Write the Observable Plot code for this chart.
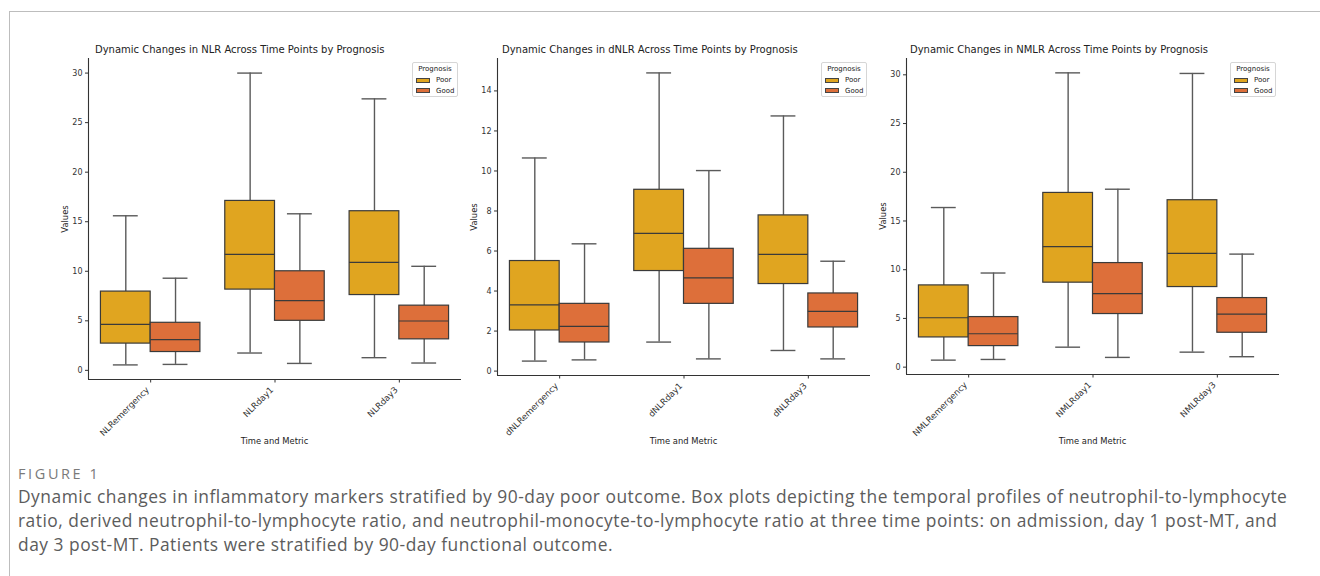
<!DOCTYPE html>
<html>
<head>
<meta charset="utf-8">
<script src="https://cdn.jsdelivr.net/npm/d3@7"></script>
<script src="https://cdn.jsdelivr.net/npm/@observablehq/plot@0.6"></script>
<style>
  html, body { margin: 0; padding: 0; background: #fff; }
  #page { position: relative; width: 1320px; height: 576px; overflow: hidden; background: #fff; }
  .frame { position: absolute; left: 9px; top: 11px; width: 1400px; height: 700px; border-left: 1px solid #bdbdbd; border-top: 1.5px solid #bdbdbd; }
  .panel-svg { position: absolute; }
  .ptitle { position: absolute; font-family: "DejaVu Sans", sans-serif; font-size: 10px; color: #222; white-space: nowrap; line-height: 1; }
  .ylab { position: absolute; font-family: "DejaVu Sans", sans-serif; font-size: 8.4px; color: #222; white-space: nowrap; transform: translate(-50%, -50%) rotate(-90deg); line-height: 1; }
  .xlab { position: absolute; font-family: "DejaVu Sans", sans-serif; font-size: 8.4px; color: #222; white-space: nowrap; transform: translate(-50%, -50%); line-height: 1; }
  .legend { position: absolute; border: 1px solid #d6d6d6; border-radius: 2px; background: rgba(255,255,255,0.85); font-family: "DejaVu Sans", sans-serif; font-size: 7px; color: #222; box-sizing: border-box; }
  .legend .lt { text-align: center; margin-top: 3px; margin-bottom: 2px; line-height: 1; }
  .legend .row { display: flex; align-items: center; height: 10.5px; padding-left: 3px; }
  .legend .sw { width: 14px; height: 5px; border: 1px solid #444; box-sizing: border-box; margin-right: 6px; }
  .figlabel { position: absolute; left: 18px; top: 464px; font-family: "Open Sans", sans-serif; font-size: 14.5px; color: #7a7a7a; letter-spacing: 2.6px; }
  .caption { position: absolute; left: 18px; font-family: "Open Sans", sans-serif; font-size: 17.4px; color: #5c5c5c; white-space: nowrap; line-height: 1; letter-spacing: 0.5px; }
</style>
</head>
<body>
<div id="page"><div class="frame"></div></div>
<script>
// ---- Data ----
const groups = ["Poor", "Good"];
const groupColors = ["#E0A520", "#DD6F3A"];
const statsOrder = ["low", "q1", "med", "q3", "high"];

const nlrCategories = ["NLRemergency", "NLRday1", "NLRday3"];
const nlrPoor = [[0.55, 2.7, 4.65, 7.95, 15.6], [1.75, 8.15, 11.7, 17.1, 30.0], [1.28, 7.6, 10.9, 16.06, 27.4]];
const nlrGood = [[0.6, 1.85, 3.1, 4.8, 9.3], [0.7, 5.0, 7.04, 10.0, 15.8], [0.74, 3.13, 4.98, 6.53, 10.5]];
const nlrTicks = [0, 5, 10, 15, 20, 25, 30];

const dnlrCategories = ["dNLRemergency", "dNLRday1", "dNLRday3"];
const dnlrPoor = [[0.5, 2.03, 3.31, 5.5, 10.65], [1.45, 5.0, 6.88, 9.06, 14.9], [1.03, 4.35, 5.83, 7.78, 12.75]];
const dnlrGood = [[0.56, 1.43, 2.23, 3.36, 6.36], [0.61, 3.36, 4.66, 6.11, 10.02], [0.61, 2.18, 2.98, 3.88, 5.49]];
const dnlrTicks = [0, 2, 4, 6, 8, 10, 12, 14];

const nmlrCategories = ["NMLRemergency", "NMLRday1", "NMLRday3"];
const nmlrPoor = [[0.72, 3.05, 5.07, 8.39, 16.38], [2.05, 8.67, 12.37, 17.88, 30.2], [1.54, 8.22, 11.68, 17.13, 30.14]];
const nmlrGood = [[0.79, 2.16, 3.43, 5.14, 9.66], [1.0, 5.45, 7.54, 10.68, 18.26], [1.07, 3.53, 5.45, 7.09, 11.6]];
const nmlrTicks = [0, 5, 10, 15, 20, 25, 30];

const titles = [
  "Dynamic Changes in NLR Across Time Points by Prognosis",
  "Dynamic Changes in dNLR Across Time Points by Prognosis",
  "Dynamic Changes in NMLR Across Time Points by Prognosis"
];
const yLabel = "Values";
const xLabel = "Time and Metric";
const legendTitle = "Prognosis";
const figLabel = "FIGURE 1";
const captionLines = [
  "Dynamic changes in inflammatory markers stratified by 90-day poor outcome. Box plots depicting the temporal profiles of neutrophil-to-lymphocyte",
  "ratio, derived neutrophil-to-lymphocyte ratio, and neutrophil-monocyte-to-lymphocyte ratio at three time points: on admission, day 1 post-MT, and",
  "day 3 post-MT. Patients were stratified by 90-day functional outcome."
];

// ---- Layout ----
const layouts = [
  {left: 88, right: 461, top: 58, bottom: 379, titleDx: 7},
  {left: 497, right: 870, top: 58, bottom: 375, titleDx: 5},
  {left: 906, right: 1279, top: 58, bottom: 374, titleDx: 4}
];
const panelDefs = [
  {cats: nlrCategories, poor: nlrPoor, good: nlrGood, ticks: nlrTicks},
  {cats: dnlrCategories, poor: dnlrPoor, good: dnlrGood, ticks: dnlrTicks},
  {cats: nmlrCategories, poor: nmlrPoor, good: nmlrGood, ticks: nmlrTicks}
];

const page = document.getElementById("page");
const groupOffset = 0.2, boxHalf = 0.2, capHalf = 0.1;
const boxStroke = "#3a3a3a", whiskerStroke = "#5a5a5a";

panelDefs.forEach((p, k) => {
  const L = layouts[k];
  const rows = [];
  p.cats.forEach((cat, i) => {
    [p.poor, p.good].forEach((arr, g) => {
      const s = arr[i];
      const r = {cat, i, group: groups[g], x: i + (g === 0 ? -groupOffset : groupOffset)};
      statsOrder.forEach((key, j) => r[key] = s[j]);
      rows.push(r);
    });
  });
  const lo = d3.min(rows, d => d.low), hi = d3.max(rows, d => d.high);
  const pad = (hi - lo) * 0.05;
  const yDomain = [lo - pad, hi + pad];
  const xDomain = [-0.5, p.cats.length - 0.5];

  const mL = 40, mR = 6, mT = 18, mB = 70;
  const width = (L.right - L.left) + mL + mR;
  const height = (L.bottom - L.top) + mT + mB;
  const catIdx = p.cats.map((c, i) => i);

  const chart = Plot.plot({
    width, height,
    marginLeft: mL, marginRight: mR, marginTop: mT, marginBottom: mB,
    style: {fontFamily: "DejaVu Sans, sans-serif", fontSize: "8px", color: "#333", background: "transparent", overflow: "visible"},
    x: {type: "linear", domain: xDomain, ticks: catIdx, tickFormat: () => "", tickSize: 3.5, label: null},
    y: {type: "linear", domain: yDomain, ticks: p.ticks, tickFormat: d => String(d), tickSize: 3, tickPadding: 3, label: null},
    color: {domain: groups, range: groupColors},
    marks: [
      Plot.ruleX(rows, {x: "x", y1: "low", y2: "q1", stroke: whiskerStroke, strokeWidth: 1.4}),
      Plot.ruleX(rows, {x: "x", y1: "q3", y2: "high", stroke: whiskerStroke, strokeWidth: 1.4}),
      Plot.ruleY(rows, {y: "low", x1: d => d.x - capHalf, x2: d => d.x + capHalf, stroke: whiskerStroke, strokeWidth: 1.4}),
      Plot.ruleY(rows, {y: "high", x1: d => d.x - capHalf, x2: d => d.x + capHalf, stroke: whiskerStroke, strokeWidth: 1.4}),
      Plot.rect(rows, {x1: d => d.x - boxHalf, x2: d => d.x + boxHalf, y1: "q1", y2: "q3", fill: "group", stroke: boxStroke, strokeWidth: 1.2}),
      Plot.ruleY(rows, {y: "med", x1: d => d.x - boxHalf, x2: d => d.x + boxHalf, stroke: boxStroke, strokeWidth: 1.2}),
      Plot.ruleX([xDomain[0]], {stroke: "#333", strokeWidth: 1.1}),
      Plot.ruleY([yDomain[0]], {stroke: "#333", strokeWidth: 1.1}),
      Plot.text(p.cats, {x: (d, i) => i, text: d => d, frameAnchor: "bottom", rotate: -45, textAnchor: "end", lineAnchor: "middle", dx: -3, dy: 9, fontSize: 8.6, fill: "#333"})
    ]
  });
  chart.classList.add("panel-svg");
  chart.style.left = (L.left - mL) + "px";
  chart.style.top = (L.top - mT) + "px";
  chart.style.position = "absolute";
  page.appendChild(chart);

  // title
  const t = document.createElement("div");
  t.className = "ptitle";
  t.textContent = titles[k];
  t.style.left = (L.left + L.titleDx) + "px";
  t.style.top = "45px";
  page.appendChild(t);

  // y label
  const yl = document.createElement("div");
  yl.className = "ylab";
  yl.textContent = yLabel;
  yl.style.left = (L.left - 23) + "px";
  yl.style.top = ((L.top + L.bottom) / 2) + "px";
  page.appendChild(yl);

  // x label
  const xl = document.createElement("div");
  xl.className = "xlab";
  xl.textContent = xLabel;
  xl.style.left = ((L.left + L.right) / 2) + "px";
  xl.style.top = "441px";
  page.appendChild(xl);

  // legend
  const lg = document.createElement("div");
  lg.className = "legend";
  lg.style.left = (L.right - 49) + "px";
  lg.style.top = "62px";
  lg.style.width = "46px";
  lg.style.height = "35px";
  const lt = document.createElement("div");
  lt.className = "lt";
  lt.textContent = legendTitle;
  lg.appendChild(lt);
  groups.forEach((g, gi) => {
    const row = document.createElement("div");
    row.className = "row";
    const sw = document.createElement("div");
    sw.className = "sw";
    sw.style.background = groupColors[gi];
    const tx = document.createElement("span");
    tx.textContent = g;
    row.appendChild(sw);
    row.appendChild(tx);
    lg.appendChild(row);
  });
  page.appendChild(lg);
});

const fl = document.createElement("div");
fl.className = "figlabel";
fl.textContent = figLabel;
page.appendChild(fl);
captionLines.forEach((line, i) => {
  const c = document.createElement("div");
  c.className = "caption";
  c.textContent = line;
  c.style.top = (488 + i * 24) + "px";
  page.appendChild(c);
});
</script>
</body>
</html>
